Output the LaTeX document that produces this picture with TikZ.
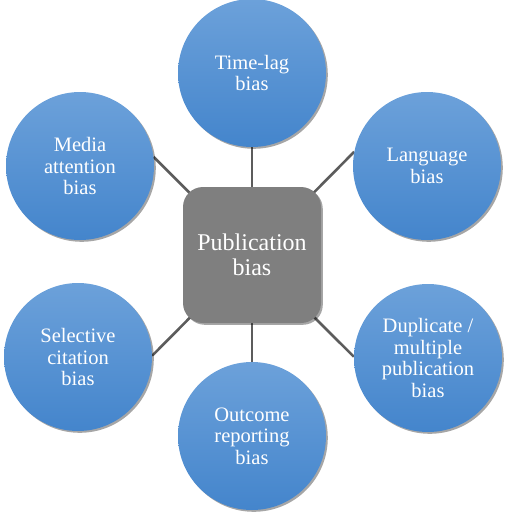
\documentclass[tikz,border=0pt]{standalone}
\usepackage{fontspec}
\setmainfont{LiberationSerif}[Extension=.ttf,UprightFont=*-Regular]
\usetikzlibrary{shadows,backgrounds}
\definecolor{biasblue}{RGB}{108,161,218}
\definecolor{biasbluedark}{RGB}{68,133,204}
\definecolor{hubgray}{RGB}{127,127,127}
\definecolor{linkgray}{RGB}{92,92,92}
\tikzset{
  bias circle/.style={circle,minimum size=148pt,inner sep=0pt,align=center,text=white,
    top color=biasblue,bottom color=biasbluedark,
    drop shadow={shadow xshift=1.8pt,shadow yshift=-1.8pt,opacity=0.35,fill=black},
    font=\fontsize{20.5}{21.5}\selectfont},
  bias hub/.style={rectangle,rounded corners=20pt,minimum width=138pt,minimum height=136pt,
    fill=hubgray,text=white,align=center,
    drop shadow={shadow xshift=1.8pt,shadow yshift=-1.8pt,opacity=0.35,fill=black},
    font=\fontsize{24}{25.5}\selectfont},
  bias link/.style={draw=linkgray,line width=2.6pt}
}

\begin{document}
\begin{tikzpicture}[x=1pt,y=-1pt]
  \useasboundingbox (0,0) rectangle (510,515);
  \node[bias hub] (hub) at (252,255) {Publication\\bias};
  \node[bias circle] (timelag) at (252,73) {Time-lag\\bias};
  \node[bias circle] (language) at (427,166) {Language\\bias};
  \node[bias circle] (duplicate) at (428,358) {Duplicate /\\multiple\\publication\\bias};
  \node[bias circle] (outcome) at (252,436) {Outcome\\reporting\\bias};
  \node[bias circle] (selective) at (78,357) {Selective\\citation\\bias};
  \node[bias circle] (media) at (80,166) {Media\\attention\\bias};
  \begin{scope}[on background layer]
    \draw[bias link] (hub.center) -- (timelag.south);
    \draw[bias link] (hub.center) -- (language.169.7);
    \draw[bias link] (hub.center) -- (duplicate.179);
    \draw[bias link] (hub.center) -- (outcome.north);
    \draw[bias link] (hub.center) -- (selective.1.5);
    \draw[bias link] (hub.center) -- (media.7.5);
  \end{scope}
\end{tikzpicture}
\end{document}
